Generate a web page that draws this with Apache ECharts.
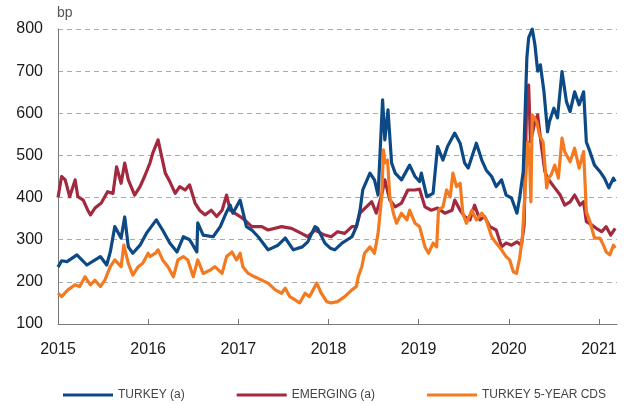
<!DOCTYPE html>
<html>
<head>
<meta charset="utf-8">
<script src="https://cdn.jsdelivr.net/npm/echarts@6/dist/echarts.min.js"></script>
<style>
  html, body { margin: 0; padding: 0; background: #fff; }
  #chart { width: 625px; height: 405px; }
</style>
</head>
<body>
<div id="chart"></div>
<script>
// x positions are decimal years
var yearTicks = [2015, 2016, 2017, 2018, 2019, 2020, 2021];

var turkeyDates = [2015.00, 2015.04, 2015.10, 2015.21, 2015.32, 2015.47, 2015.54, 2015.58, 2015.63, 2015.70, 2015.74, 2015.78, 2015.83, 2015.91, 2015.98,
  2016.09, 2016.16, 2016.24, 2016.32, 2016.39, 2016.46, 2016.54, 2016.55, 2016.61, 2016.72, 2016.80, 2016.87, 2016.91, 2016.94,
  2017.02, 2017.09, 2017.15, 2017.22, 2017.33, 2017.44, 2017.52, 2017.61, 2017.71, 2017.77, 2017.85, 2017.88, 2017.96,
  2018.02, 2018.07, 2018.15, 2018.26, 2018.31, 2018.35, 2018.38, 2018.46, 2018.51, 2018.55, 2018.60, 2018.625, 2018.66, 2018.70, 2018.74, 2018.81, 2018.90, 2018.96,
  2019.01, 2019.03, 2019.09, 2019.16, 2019.21, 2019.27, 2019.32, 2019.40, 2019.46, 2019.51, 2019.55, 2019.64, 2019.70, 2019.75, 2019.81, 2019.86, 2019.92, 2019.97,
  2020.03, 2020.09, 2020.12, 2020.16, 2020.20, 2020.22, 2020.26, 2020.29, 2020.32, 2020.35, 2020.39, 2020.43, 2020.45, 2020.50, 2020.54, 2020.59, 2020.64, 2020.68, 2020.73, 2020.78, 2020.83, 2020.86, 2020.90, 2020.95,
  2021.01, 2021.06, 2021.11, 2021.16, 2021.18];
var turkeyValues = [235, 250, 248, 264, 240, 260, 240, 271, 331, 304, 354, 283, 268, 287, 315,
  347, 323, 292, 271, 307, 300, 271, 340, 311, 307, 331, 366, 382, 363,
  394, 331, 323, 307, 276, 287, 304, 276, 283, 295, 331, 327, 292,
  280, 276, 292, 307, 331, 370, 418, 458, 442, 406, 632, 537, 608, 482, 458, 442, 477, 450,
  438, 458, 402, 410, 521, 489, 521, 553, 529, 482, 470, 529, 489, 465, 450, 426, 442, 406,
  399, 363, 399, 462, 731, 779, 800, 762, 700, 715, 651, 556, 580, 612, 589, 699, 627, 604, 651, 620, 651, 532, 509, 477,
  462, 446, 423, 446, 438];

var emergingDates = [2015.00, 2015.04, 2015.08, 2015.13, 2015.19, 2015.22, 2015.28, 2015.33, 2015.36, 2015.41, 2015.48, 2015.55, 2015.61, 2015.65, 2015.70, 2015.74, 2015.78, 2015.85, 2015.91, 2015.96,
  2016.02, 2016.05, 2016.11, 2016.15, 2016.19, 2016.24, 2016.30, 2016.35, 2016.41, 2016.46, 2016.52, 2016.57, 2016.63, 2016.70, 2016.76, 2016.82, 2016.87, 2016.91, 2016.96,
  2017.02, 2017.07, 2017.15, 2017.26, 2017.33, 2017.48, 2017.59, 2017.70, 2017.77, 2017.85, 2017.92, 2017.96,
  2018.03, 2018.10, 2018.18, 2018.26, 2018.31, 2018.35, 2018.42, 2018.48, 2018.53, 2018.59, 2018.625, 2018.68, 2018.74, 2018.81, 2018.88, 2018.96,
  2019.01, 2019.07, 2019.14, 2019.21, 2019.29, 2019.37, 2019.40, 2019.46, 2019.51, 2019.57, 2019.62, 2019.68, 2019.73, 2019.79, 2019.86, 2019.92, 2019.97,
  2020.03, 2020.09, 2020.14, 2020.17, 2020.20, 2020.22, 2020.24, 2020.29, 2020.32, 2020.36, 2020.40, 2020.43, 2020.51, 2020.57, 2020.62, 2020.68, 2020.73, 2020.79, 2020.83, 2020.86, 2020.92, 2020.97,
  2021.03, 2021.08, 2021.13, 2021.18];
var emergingValues = [400, 450, 442, 402, 442, 402, 394, 370, 359, 375, 387, 414, 410, 473, 434, 482, 442, 406, 426, 450,
  482, 505, 537, 497, 458, 438, 410, 426, 418, 430, 387, 370, 359, 370, 355, 370, 406, 370, 363,
  355, 347, 331, 331, 323, 331, 327, 315, 307, 323, 315, 311,
  307, 319, 315, 331, 331, 363, 378, 390, 363, 406, 442, 394, 378, 387, 418, 418,
  420, 378, 370, 375, 363, 370, 394, 370, 355, 347, 382, 347, 355, 331, 323, 283, 292,
  287, 295, 287, 335, 651, 667, 532, 580, 596, 525, 462, 446, 423, 406, 382, 390, 406, 382, 390, 343, 335, 327,
  319, 331, 311, 327];

var cdsDates = [2015.00, 2015.04, 2015.11, 2015.19, 2015.24, 2015.30, 2015.36, 2015.41, 2015.47, 2015.52, 2015.58, 2015.63, 2015.70, 2015.73, 2015.78, 2015.83, 2015.89, 2015.94,
  2016.00, 2016.02, 2016.08, 2016.11, 2016.16, 2016.22, 2016.28, 2016.33, 2016.39, 2016.44, 2016.50, 2016.55, 2016.61, 2016.69, 2016.74, 2016.82, 2016.87, 2016.93, 2016.98,
  2017.02, 2017.05, 2017.11, 2017.18, 2017.26, 2017.33, 2017.41, 2017.48, 2017.52, 2017.57, 2017.63, 2017.68, 2017.74, 2017.79, 2017.87, 2017.92, 2017.98,
  2018.03, 2018.10, 2018.18, 2018.26, 2018.31, 2018.33, 2018.37, 2018.40, 2018.46, 2018.51, 2018.55, 2018.59, 2018.61, 2018.625, 2018.655, 2018.68, 2018.72, 2018.755, 2018.81, 2018.87, 2018.90, 2018.96,
  2019.01, 2019.07, 2019.11, 2019.16, 2019.20, 2019.22, 2019.27, 2019.31, 2019.35, 2019.38, 2019.42, 2019.46, 2019.49, 2019.53, 2019.59, 2019.64, 2019.70, 2019.75, 2019.81, 2019.86, 2019.92, 2019.97,
  2020.01, 2020.05, 2020.085, 2020.12, 2020.15, 2020.18, 2020.21, 2020.23, 2020.245, 2020.26, 2020.31, 2020.34, 2020.38, 2020.42, 2020.44, 2020.47, 2020.51, 2020.55, 2020.59, 2020.62, 2020.68, 2020.73, 2020.78, 2020.83, 2020.86, 2020.90, 2020.95,
  2021.01, 2021.05, 2021.08, 2021.12, 2021.16, 2021.18];
var cdsValues = [173, 165, 181, 193, 189, 212, 193, 204, 189, 204, 236, 252, 236, 287, 244, 216, 236, 244,
  268, 260, 268, 276, 252, 236, 212, 252, 260, 252, 212, 252, 220, 228, 236, 220, 260, 271, 252,
  268, 236, 220, 212, 204, 197, 181, 173, 185, 165, 157, 150, 173, 165, 197, 173, 153,
  150, 153, 165, 181, 189, 212, 236, 268, 283, 268, 315, 402, 513, 482, 489, 402, 363, 339, 363, 347, 370, 339,
  331, 283, 268, 292, 283, 370, 378, 418, 402, 458, 426, 434, 363, 339, 370, 347, 363, 347, 307, 292, 276, 260,
  252, 224, 220, 256, 304, 414, 532, 494, 390, 596, 580, 548, 532, 423, 446, 454, 477, 446, 541, 509, 485, 517, 470, 509, 366, 343, 304,
  304, 287, 271, 264, 287, 280];

var seriesNames = ['TURKEY (a)', 'EMERGING (a)', 'TURKEY 5-YEAR CDS'];
var seriesColors = ['#0d4a85', '#a3293f', '#f37a20'];

function pairs(xs, ys) {
  return xs.map(function (x, i) { return [x, ys[i]]; });
}

var chart = echarts.init(document.getElementById('chart'));

var lineSeries = function (idx, data, z) {
  return {
    name: seriesNames[idx],
    type: 'line',
    data: data,
    showSymbol: false,
    z: z,
    lineStyle: { color: seriesColors[idx], width: 3.2, join: 'round' },
    itemStyle: { color: seriesColors[idx] }
  };
};

chart.setOption({
  animation: false,
  backgroundColor: '#fff',
  textStyle: { fontFamily: 'Liberation Sans, Arial, sans-serif' },
  grid: { left: 58, right: 8, top: 29, bottom: 81 },
  graphic: [{
    type: 'text', left: 57, top: 6,
    style: { text: 'bp', fontSize: 14, fill: '#555', fontFamily: 'Liberation Sans, Arial, sans-serif' }
  }],
  legend: {
    data: seriesNames,
    left: 58, top: 384,
    icon: 'rect', itemWidth: 50, itemHeight: 3, itemGap: 52,
    textStyle: { fontSize: 12, color: '#444', fontFamily: 'Liberation Sans Narrow, Liberation Sans, sans-serif' }
  },
  xAxis: {
    type: 'value', min: 2015, max: 2021.2,
    axisLine: { lineStyle: { color: '#777', width: 1 } },
    axisTick: { show: true, inside: true, length: 5, customValues: yearTicks, lineStyle: { color: '#777' } },
    axisLabel: { customValues: yearTicks, fontSize: 16, color: '#1a1a1a', margin: 18, formatter: function (v) { return String(v); } },
    splitLine: { show: false }
  },
  yAxis: {
    type: 'value', min: 100, max: 800, interval: 100,
    axisLine: { show: true, lineStyle: { color: '#777', width: 1 } },
    axisTick: { show: false },
    axisLabel: { fontSize: 16, color: '#1a1a1a', margin: 15 },
    splitLine: { show: true, lineStyle: { color: '#aaa', type: [5, 4], width: 1 } }
  },
  series: [
    lineSeries(1, pairs(emergingDates, emergingValues), 2),
    lineSeries(2, pairs(cdsDates, cdsValues), 3),
    lineSeries(0, pairs(turkeyDates, turkeyValues), 4)
  ]
});
</script>
</body>
</html>
